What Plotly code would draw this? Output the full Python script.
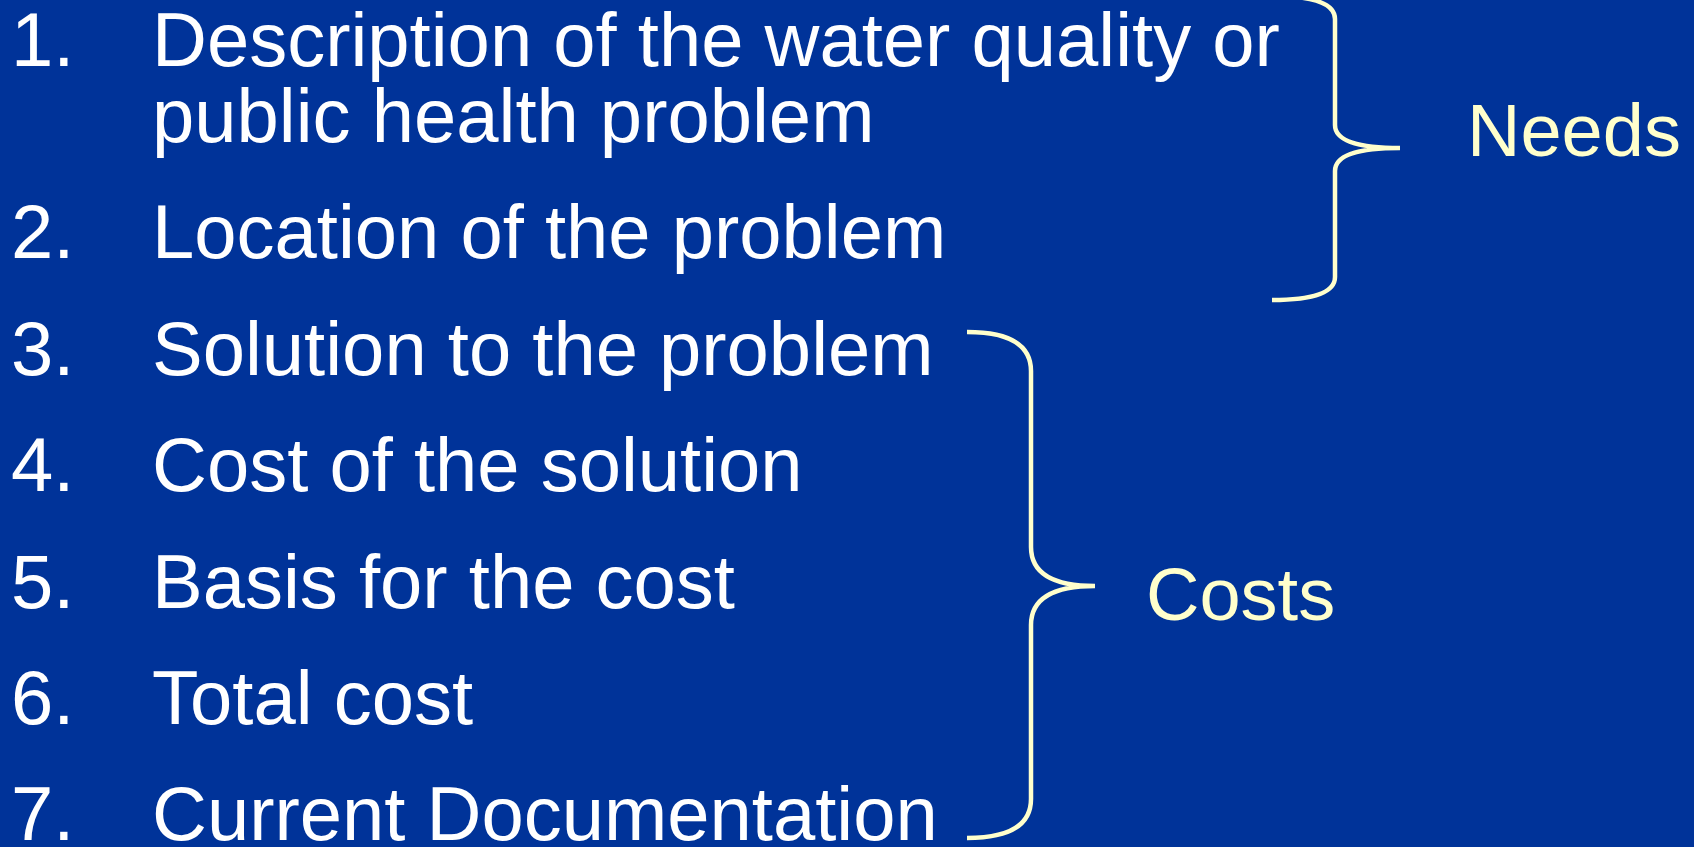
import plotly.graph_objects as go

# ---- content ----
item_numbers = ["1.", "2.", "3.", "4.", "5.", "6.", "7."]
item_lines = [
    ["Description of the water quality or", "public health problem"],
    ["Location of the problem"],
    ["Solution to the problem"],
    ["Cost of the solution"],
    ["Basis for the cost"],
    ["Total cost"],
    ["Current Documentation"],
]
group_labels = ["Needs", "Costs"]
group_first_item = [0, 2]   # index of first item in each group
group_last_item = [1, 6]    # index of last item in each group

# ---- layout / style ----
W, H = 1694, 847
BG = "#003399"
TEXT = "#FFFFFF"
ACCENT = "#FFFFCC"
FONT = "Liberation Sans, Arial, sans-serif"
FS = 76
LFS = 74
first_baseline = 66
wrap_gap = 76       # baseline distance inside an item
item_gap = 116.4    # baseline distance between items
num_x = 10
text_x = 151
descent_shift = -17

# brace geometry (per group)
brace_end_x = [1272, 967]
brace_stem_x = [1335, 1031]
brace_tip_x = [1400, 1095]
brace_top_y = [-4, 332]
brace_mid_y = [148, 586]
brace_bot_y = [300, 838]
brace_curl = [23, 39]
label_x = [1466, 1145]
label_baseline = [157, 621]

fig = go.Figure()
annotations = []

item_baselines = []
for k, (num, lines) in enumerate(zip(item_numbers, item_lines)):
    baseline = first_baseline if k == 0 else item_baselines[-1][-1] + item_gap
    bl = []
    for j, line in enumerate(lines):
        b = baseline + j * wrap_gap
        bl.append(b)
        annotations.append(dict(x=text_x, y=b, text=line, showarrow=False,
                                xanchor="left", yanchor="bottom", yshift=descent_shift,
                                font=dict(family=FONT, size=FS, color=TEXT), borderpad=0))
    annotations.append(dict(x=num_x, y=bl[0], text=num, showarrow=False,
                            xanchor="left", yanchor="bottom", yshift=descent_shift,
                            font=dict(family=FONT, size=FS, color=TEXT), borderpad=0))
    item_baselines.append(bl)

shapes = []
for g, label in enumerate(group_labels):
    xe, xs, xt = brace_end_x[g], brace_stem_x[g], brace_tip_x[g]
    yt, ym, yb, r = brace_top_y[g], brace_mid_y[g], brace_bot_y[g], brace_curl[g]
    path = (f"M {xe},{yt} Q {xs},{yt} {xs},{yt + r} "
            f"L {xs},{ym - r} Q {xs},{ym} {xt},{ym} "
            f"Q {xs},{ym} {xs},{ym + r} "
            f"L {xs},{yb - r} Q {xs},{yb} {xe},{yb}")
    shapes.append(dict(type="path", path=path, xref="x", yref="y",
                       line=dict(color=ACCENT, width=4.5)))
    annotations.append(dict(x=label_x[g], y=label_baseline[g], text=label, showarrow=False,
                            xanchor="left", yanchor="bottom", yshift=-16,
                            font=dict(family=FONT, size=LFS, color=ACCENT), borderpad=0))

fig.update_layout(
    width=W, height=H,
    margin=dict(l=0, r=0, t=0, b=0),
    paper_bgcolor=BG, plot_bgcolor=BG,
    xaxis=dict(range=[0, W], visible=False, fixedrange=True),
    yaxis=dict(range=[H, 0], visible=False, fixedrange=True),
    annotations=annotations, shapes=shapes, showlegend=False,
)

fig.write_html("out.html", config={"displayModeBar": False},
               post_script="document.body.style.margin='0';document.body.style.padding='0';"
                           "document.body.style.overflow='hidden';"
                           "document.body.style.background='" + BG + "';")
